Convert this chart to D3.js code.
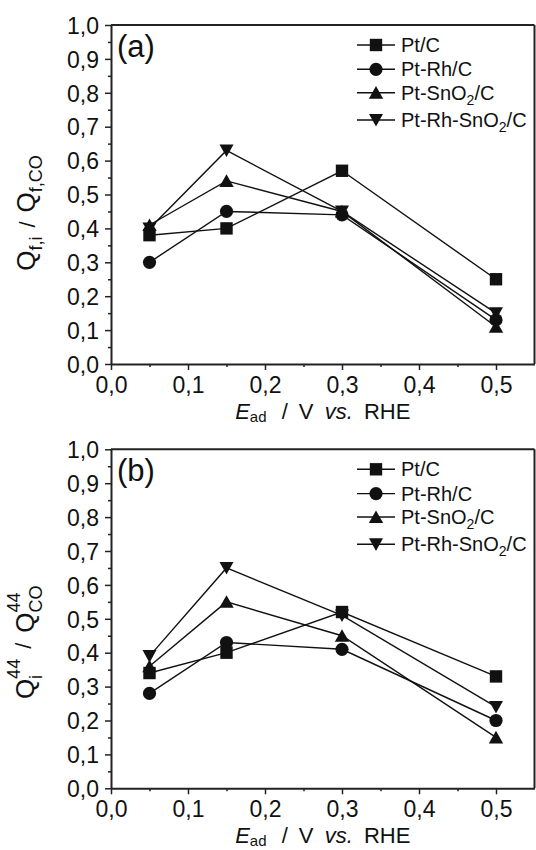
<!DOCTYPE html>
<html>
<head>
<meta charset="utf-8">
<script src="https://cdn.jsdelivr.net/npm/d3@7"></script>
<style>
  html, body { margin: 0; padding: 0; background: #fff; }
  svg { display: block; }
  text { font-family: "Liberation Sans", Arial, sans-serif; fill: #111; }
</style>
</head>
<body>
<svg id="chart" width="536" height="850"></svg>
<script>
// ---------- data ----------
const potentials = [0.05, 0.15, 0.3, 0.5];           // E_ad / V vs. RHE
const seriesNames = ["Pt/C", "Pt-Rh/C", "Pt-SnO2/C", "Pt-Rh-SnO2/C"];
const seriesSymbols = ["square", "circle", "triangleUp", "triangleDown"];

// panel (a): Q_f,i / Q_f,CO
const a_PtC       = [0.38, 0.40, 0.57, 0.25];
const a_PtRhC     = [0.30, 0.45, 0.44, 0.13];
const a_PtSnO2C   = [0.41, 0.54, 0.45, 0.11];
const a_PtRhSnO2C = [0.40, 0.63, 0.45, 0.15];

// panel (b): Q^44_i / Q^44_CO
const b_PtC       = [0.34, 0.40, 0.52, 0.33];
const b_PtRhC     = [0.28, 0.43, 0.41, 0.20];
const b_PtSnO2C   = [0.36, 0.55, 0.45, 0.15];
const b_PtRhSnO2C = [0.39, 0.65, 0.51, 0.24];

const yTicks = [0, 0.1, 0.2, 0.3, 0.4, 0.5, 0.6, 0.7, 0.8, 0.9, 1.0];
const xTicks = [0, 0.1, 0.2, 0.3, 0.4, 0.5];
const panelLetters = ["(a)", "(b)"];

// ---------- drawing ----------
const svg = d3.select("#chart");
svg.append("rect").attr("width", 536).attr("height", 850).attr("fill", "#fff");

const fmt = v => d3.format(".1f")(v).replace(".", ",");
const AXIS_COLOR = "#222";

function symbolPath(type) {
  if (type === "square") return "M-6.2,-6.2H6.2V6.2H-6.2Z";
  if (type === "circle") return d3.symbol(d3.symbolCircle, Math.PI * 6.6 * 6.6)();
  if (type === "triangleUp") return "M0,-6.6L7.2,6.0L-7.2,6.0Z";
  return "M0,6.6L7.0,-6.0L-7.0,-6.0Z";
}

function drawPanel(top, seriesValues, letter, yLabelFn) {
  const left = 111, right = 534.5, bottom = top + 339;
  const x = d3.scaleLinear().domain([0, 0.55]).range([left, right]);
  const y = d3.scaleLinear().domain([0, 1.0]).range([bottom, top]);
  const g = svg.append("g");

  // frame (top & right)
  g.append("line").attr("x1", left).attr("x2", right).attr("y1", top).attr("y2", top)
    .attr("stroke", AXIS_COLOR).attr("stroke-width", 2);
  g.append("line").attr("x1", right).attr("x2", right).attr("y1", top).attr("y2", bottom)
    .attr("stroke", AXIS_COLOR).attr("stroke-width", 2);

  // y axis major
  const yAx = g.append("g").attr("transform", `translate(${left},0)`)
    .call(d3.axisLeft(y).tickValues(yTicks).tickFormat(fmt).tickSizeInner(6).tickSizeOuter(0).tickPadding(6));
  // y minor
  g.append("g").attr("transform", `translate(${left},0)`)
    .call(d3.axisLeft(y).tickValues(d3.range(0.05, 1.0, 0.1)).tickFormat("").tickSize(3))
    .call(s => s.select(".domain").remove());
  // x axis major
  const xAx = g.append("g").attr("transform", `translate(0,${bottom})`)
    .call(d3.axisBottom(x).tickValues(xTicks).tickFormat(fmt).tickSizeInner(6).tickSizeOuter(0).tickPadding(6));
  g.append("g").attr("transform", `translate(0,${bottom})`)
    .call(d3.axisBottom(x).tickValues(d3.range(0.05, 0.55, 0.1)).tickFormat("").tickSize(3))
    .call(s => s.select(".domain").remove());

  g.selectAll(".domain").attr("stroke", AXIS_COLOR).attr("stroke-width", 2);
  g.selectAll(".tick line").attr("stroke", AXIS_COLOR).attr("stroke-width", 1.5);
  g.selectAll(".tick text").attr("font-size", 23).attr("font-family", "Liberation Sans, Arial, sans-serif").attr("fill", "#111");
  yAx.selectAll(".tick text").attr("dy", "0.36em");
  xAx.selectAll(".tick text").attr("dy", "0.72em");

  // panel letter
  g.append("text").attr("x", left + 6).attr("y", top + 32).attr("font-size", 31).text(letter);

  // series
  const line = d3.line().x((d, i) => x(potentials[i])).y(d => y(d));
  seriesValues.forEach((vals, si) => {
    g.append("path").attr("d", line(vals)).attr("fill", "none")
      .attr("stroke", "#111").attr("stroke-width", 1.4);
  });
  seriesValues.forEach((vals, si) => {
    g.selectAll(null).data(vals).enter().append("path")
      .attr("d", symbolPath(seriesSymbols[si]))
      .attr("transform", (d, i) => `translate(${x(potentials[i])},${y(d)})`)
      .attr("fill", "#111");
  });

  // legend
  const legLineY = [20, 44.3, 67.7, 95];
  seriesNames.forEach((name, i) => {
    const ly = top + legLineY[i];
    g.append("line").attr("x1", 357).attr("x2", 395).attr("y1", ly).attr("y2", ly)
      .attr("stroke", "#111").attr("stroke-width", 1.4);
    g.append("path").attr("d", symbolPath(seriesSymbols[i]))
      .attr("transform", `translate(376,${ly})`).attr("fill", "#111");
    const t = g.append("text").attr("x", 401).attr("y", ly + 7).attr("font-size", 20);
    if (name.includes("SnO2")) {
      const parts = name.split("SnO2");
      t.append("tspan").text(parts[0] + "SnO");
      t.append("tspan").attr("font-size", 14).attr("dy", 5).text("2");
      t.append("tspan").attr("dy", -5).text(parts[1]);
    } else {
      t.text(name);
    }
  });

  // x-axis title
  const xt = g.append("text").attr("x", (left + right) / 2).attr("y", bottom + 54.5)
    .attr("text-anchor", "middle").attr("font-size", 22).attr("word-spacing", 5);
  xt.append("tspan").attr("font-style", "italic").text("E");
  xt.append("tspan").attr("font-size", 15).attr("dy", 3).text("ad");
  xt.append("tspan").attr("dy", -3).attr("dx", 4).text(" / V ");
  xt.append("tspan").attr("font-style", "italic").text("vs.");
  xt.append("tspan").text(" RHE");

  // y-axis title
  yLabelFn(g, top);
}

function stackedLabel(g, cx, cy, pieces) {
  const grp = g.append("g").attr("transform", `translate(${cx},${cy}) rotate(-90)`);
  let pos = 0, prevStart = 0, prevW = 0;
  const nodes = [];
  pieces.forEach(p => {
    const start = p.stack ? prevStart : pos + (p.gap || 0);
    const t = grp.append("text").attr("x", start).attr("y", p.shift || 0)
      .attr("font-size", p.size).text(p.t);
    const w = t.node().getComputedTextLength();
    nodes.push(t);
    if (p.stack) { pos = Math.max(prevStart + prevW, start + w); }
    else { pos = start + w; prevStart = start; prevW = w; }
  });
  const total = pos;
  nodes.forEach(n => n.attr("x", +n.attr("x") - total / 2));
}

function yLabelA(g, top) {
  stackedLabel(g, 35, top + 188, [
    { t: "Q", size: 26 },
    { t: "f,i", size: 18, shift: 7 },
    { t: "/", size: 22, gap: 9 },
    { t: "Q", size: 26, gap: 9 },
    { t: "f,CO", size: 18, shift: 7 }
  ]);
}
function yLabelB(g, top) {
  stackedLabel(g, 34, top + 193, [
    { t: "Q", size: 26 },
    { t: "44", size: 18, shift: -14 },
    { t: "i", size: 18, shift: 8, stack: true },
    { t: "/", size: 22, gap: 10, shift: -3 },
    { t: "Q", size: 26, gap: 10 },
    { t: "44", size: 18, shift: -14 },
    { t: "CO", size: 18, shift: 8, stack: true }
  ]);
}

drawPanel(25, [a_PtC, a_PtRhC, a_PtSnO2C, a_PtRhSnO2C], panelLetters[0], yLabelA);
drawPanel(449.3, [b_PtC, b_PtRhC, b_PtSnO2C, b_PtRhSnO2C], panelLetters[1], yLabelB);
</script>
</body>
</html>
